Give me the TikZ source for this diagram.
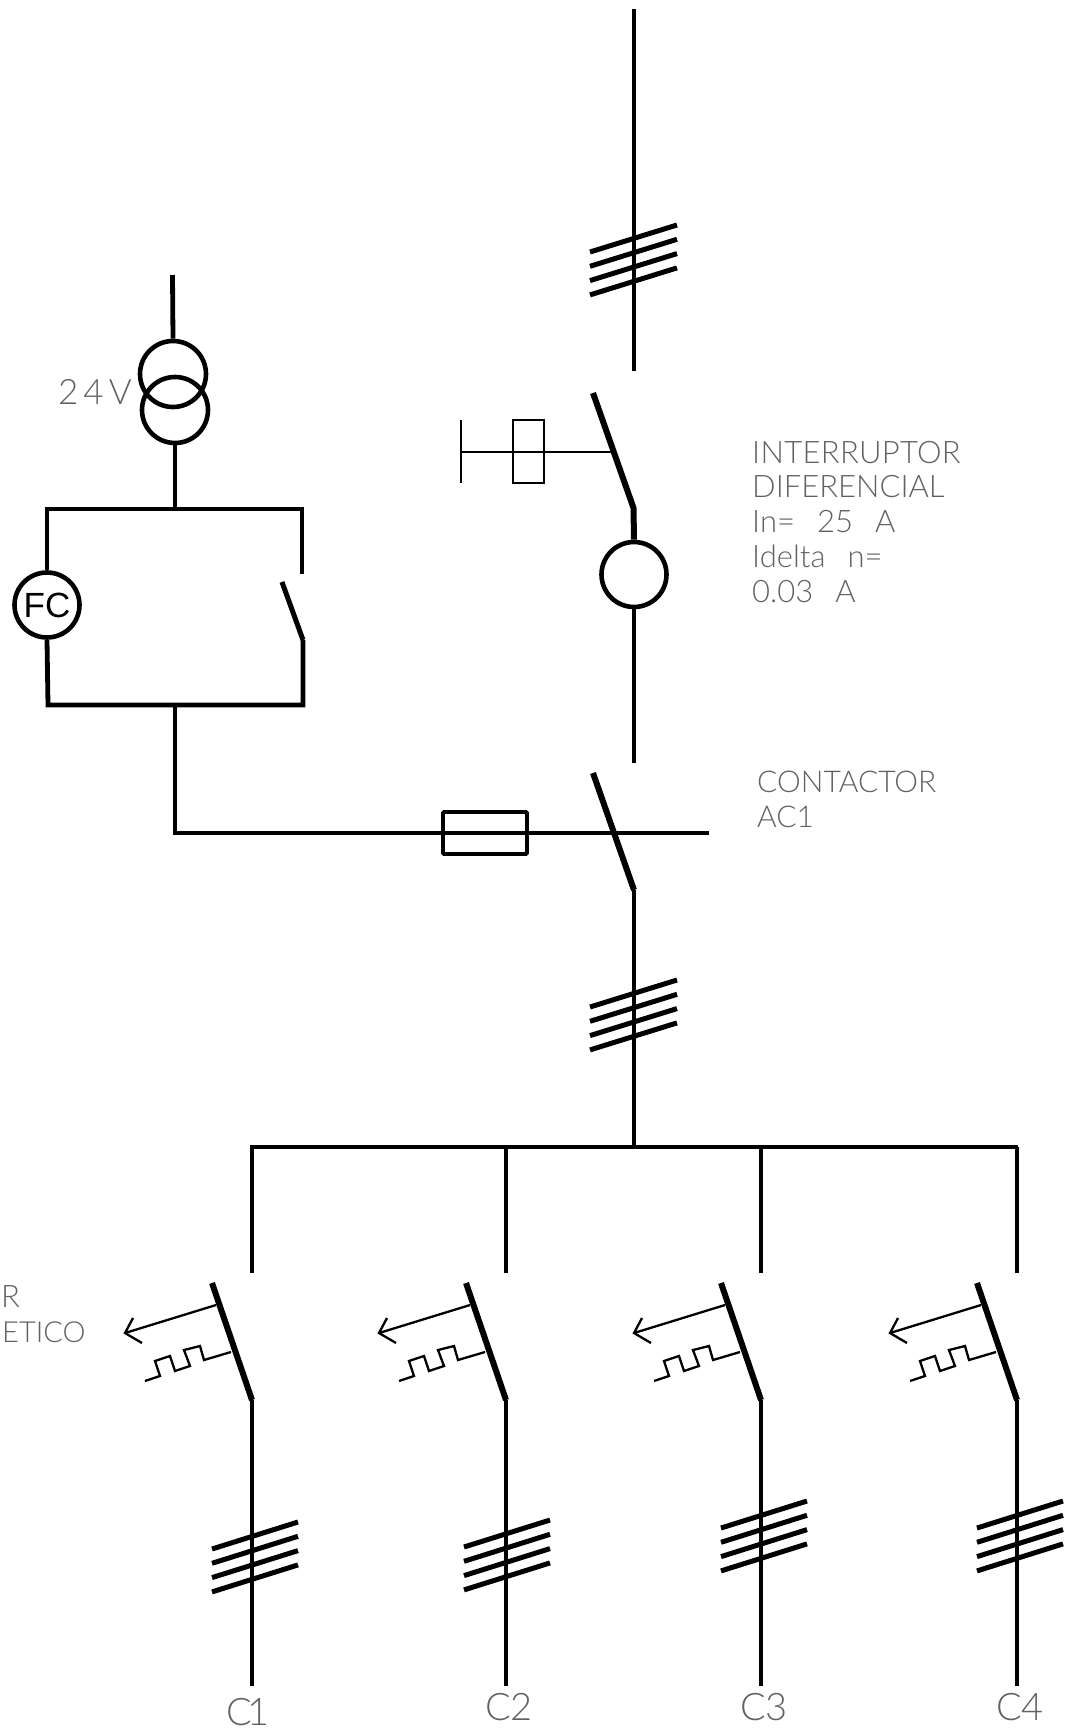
\documentclass[tikz,border=0pt]{standalone}
\usepackage{fontspec}
\setmainfont{Liberation Sans}
\newfontfamily\thinfont{Lato Light}
\tikzset{
  wire/.style={line width=4.8pt,line cap=butt,line join=miter},
  blade/.style={line width=6pt,line cap=butt,line join=bevel},
  strand/.style={line width=5pt,line cap=butt},
  coil/.style={line width=2.3pt,line join=miter},
  ring/.style={circle,draw,line width=4.6pt,minimum size=65pt,inner sep=0pt,fill=none},
  cad/.style={anchor=base west,inner sep=0pt,text=black!62,font=\thinfont\fontsize{31}{31}\selectfont},
  cadbig/.style={cad,font=\thinfont\fontsize{38}{38}\selectfont},
}
\newcommand{\bankat}[3]{% x left, x right, y left of first strand
  \foreach \k in {0,1,2,3}{
    \draw[strand] (#1,{#3+14.3*\k}) -- (#2,{#3-27+14.3*\k});
  }
}
\begin{document}
\begin{tikzpicture}[x=1pt,y=-1pt]
\useasboundingbox (0,0) rectangle (1065,1731);

% supply and differential
\coordinate (top) at (634,9);
\coordinate (topend) at (634,371);
\draw[wire] (top) -- (topend);
\bankat{590}{677}{252}
\node[ring] (rcd) at (634,574.5) {};
\coordinate (diffA) at (593,393);
\coordinate (diffB) at (633.5,508);
\draw[blade] (diffA) -- (diffB) -- (rcd.north);
\coordinate (diffC) at (634,763);
\draw[wire] (rcd.south) -- (diffC);
\coordinate (testbar) at (461,452);
\coordinate (testjoin) at (612,452);
\draw[coil] (461,420) -- (461,483);
\draw[coil] (testbar) -- (testjoin);
\node[draw,line width=2.6pt,minimum width=31pt,minimum height=63pt,inner sep=0pt] (testcoil) at (528.5,451.5) {};

% transformer
\node[ring,minimum size=66pt] (tra) at (173,374) {};
\node[ring,minimum size=66pt] (trb) at (175,410) {};
\coordinate (tin) at (172.5,275);
\draw[wire] (tin) -- (tra.north);
\coordinate (busA) at (175,509);
\draw[wire] (trb.south) -- (busA);

% control loop
\node[ring] (fc) at (47,605) {};
\node[font=\fontsize{35}{35}\selectfont] (fclabel) at (47,605) {FC};
\coordinate (tl) at (47,509);
\coordinate (tr) at (302,509);
\coordinate (bl) at (48,705);
\coordinate (br) at (303,705);
\coordinate (contA) at (302,574);
\coordinate (contB) at (282,582);
\coordinate (contC) at (303,640);
\draw[wire] (fc.north) -- (tl) -- (tr) -- (contA);
\draw[wire] (fc.south) -- (bl) -- (br) -- (contC);
\draw[blade,line width=5pt] (contB) -- (contC);
\coordinate (coilin) at (175,705);
\coordinate (coilcorner) at (175,833);
\coordinate (coilend) at (709,833);
\draw[wire] (coilin) -- (coilcorner) -- (coilend);
\node[draw,line width=3.6pt,minimum width=84pt,minimum height=42pt,inner sep=0pt,rounded corners=1pt] (fuse) at (485,833) {};

% main contactor
\coordinate (kA) at (593,773);
\coordinate (kB) at (634,890);
\coordinate (busT) at (634,1147);
\draw[blade] (kA) -- (kB);
\draw[wire] (kB) -- (busT);
\bankat{590}{677}{1007}

% distribution bus
\coordinate (busL) at (250,1147);
\coordinate (busR) at (1017.5,1147);
\draw[wire] (busL) -- (busR);

% outgoing circuits
\foreach \n/\cx/\lft/\by/\lx/\ly/\lt in {1/252/40/1549/226/1725/C\kern-4pt 1, 2/506/42/1547/485/1720/C2, 3/761/40/1528/740/1720/C3, 4/1017/40/1528/996/1720/C4}{
  \coordinate (drop\n) at (\cx,1147);
  \coordinate (dropend\n) at (\cx,1273);
  \coordinate (mcbA\n) at (\cx-40,1283);
  \coordinate (mcbB\n) at (\cx,1400);
  \coordinate (out\n) at (\cx,1686);
  \draw[wire] (drop\n) -- (dropend\n);
  \draw[blade] (mcbA\n) -- (mcbB\n);
  \draw[wire] (mcbB\n) -- (out\n);
  \bankat{\cx-\lft}{\cx-\lft+86}{\by}
  \begin{scope}[shift={(\cx,0)}]
    \coordinate (armA\n) at (-36,1305);
    \coordinate (tip\n) at (-127,1333);
    \draw[coil] (armA\n) -- (tip\n);
    \draw[coil] (-119,1318) -- (tip\n) -- (-110,1343);
    \draw[coil] (-21,1352) -- (-48,1360) -- (-52,1346) -- (-68,1350) -- (-62,1366) -- (-77,1371) -- (-82,1356) -- (-97,1361) -- (-92,1376) -- (-107,1381);
  \end{scope}
  \node[cadbig] (lab\n) at (\lx,\ly) {\lt};
}

% texts
\node[cad] (t24) at (58,404) {\fontsize{35}{35}\selectfont 2\kern5pt 4\kern5pt V};
\node[cad] (t1) at (752,463) {\addfontfeature{LetterSpace=1}INTERRUPTOR};
\node[cad] (t2) at (752,497) {DIFERENCIAL};
\node[cad] (t3) at (752,532) {In=\kern22pt 25\kern22pt A};
\node[cad] (t4) at (752,567) {Idelta\kern22pt n=\kern4pt};
\node[cad] (t5) at (752,602) {0.03\kern22pt A};
\node[cad] (t6) at (757,792) {\fontsize{30}{30}\selectfont CONTACTOR};
\node[cad] (t7) at (757,827) {\fontsize{30}{30}\selectfont AC1};
\node[cad] (t8) at (1,1307) {R};
\node[cad] (t9) at (2,1342) {\fontsize{29}{29}\selectfont ETICO};
\end{tikzpicture}
\end{document}
